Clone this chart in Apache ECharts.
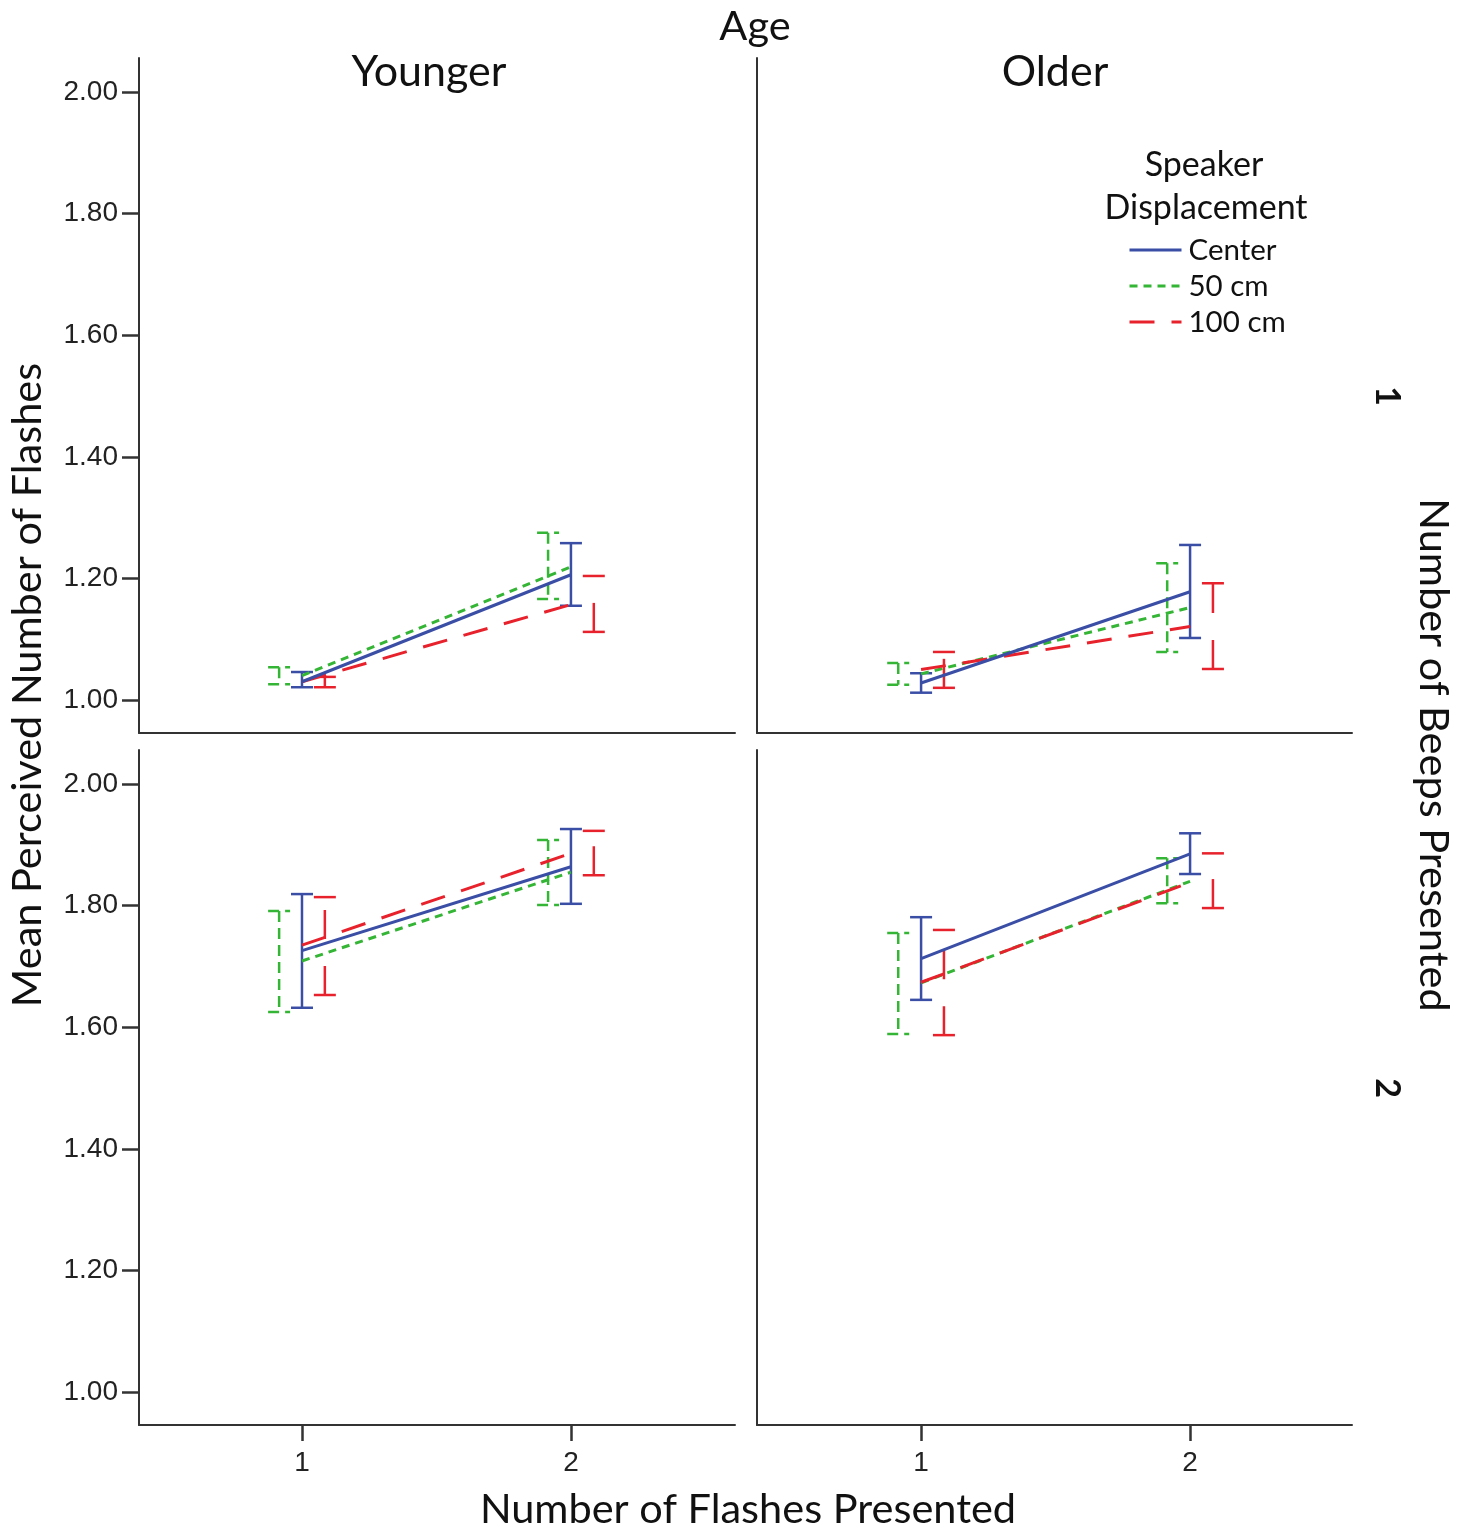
<!DOCTYPE html>
<html>
<head>
<meta charset="utf-8">
<script src="https://cdn.jsdelivr.net/npm/echarts@6/dist/echarts.min.js"></script>
<style>
  html, body { margin: 0; padding: 0; background: #fff; }
  #chart { width: 1471px; height: 1531px; }
</style>
</head>
<body>
<div id="chart"></div>
<script>
// data
const flashes = [1, 2];
const seriesNames = ['Center', '50 cm', '100 cm'];
const ages = ['Younger', 'Older'];
const beeps = ['1', '2'];
const yTicks = [1.0, 1.2, 1.4, 1.6, 1.8, 2.0];

// rows: Center, 50 cm, 100 cm ; columns: 1 flash, 2 flashes
const meanYoung1 = [[1.030, 1.206], [1.040, 1.219], [1.030, 1.157]];
const lowYoung1  = [[1.021, 1.155], [1.026, 1.166], [1.021, 1.112]];
const highYoung1 = [[1.046, 1.258], [1.054, 1.275], [1.038, 1.204]];

const meanOld1 = [[1.028, 1.178], [1.043, 1.152], [1.050, 1.121]];
const lowOld1  = [[1.012, 1.102], [1.025, 1.079], [1.020, 1.051]];
const highOld1 = [[1.044, 1.255], [1.061, 1.225], [1.079, 1.192]];

const meanYoung2 = [[1.726, 1.864], [1.709, 1.855], [1.735, 1.886]];
const lowYoung2  = [[1.632, 1.803], [1.625, 1.801], [1.653, 1.850]];
const highYoung2 = [[1.819, 1.926], [1.791, 1.908], [1.814, 1.923]];

const meanOld2 = [[1.713, 1.885], [1.673, 1.840], [1.674, 1.838]];
const lowOld2  = [[1.645, 1.852], [1.589, 1.804], [1.587, 1.796]];
const highOld2 = [[1.781, 1.919], [1.755, 1.878], [1.760, 1.886]];

const panels = [
  { mean: meanYoung1, low: lowYoung1, high: highYoung1 },
  { mean: meanOld1, low: lowOld1, high: highOld1 },
  { mean: meanYoung2, low: lowYoung2, high: highYoung2 },
  { mean: meanOld2, low: lowOld2, high: highOld2 }
];

// styling
const colors = ['#3a4ea6', '#35b535', '#e8222c'];
const lineDash = ['solid', [8, 6], [25, 17]];
const barDash = [null, [11, 6], [29, 27]];
const barFromBottom = [false, false, true];
const dodge = [0, -0.085, 0.085];
const font = 'Lato';
const axisColor = '#333';

const chart = echarts.init(document.getElementById('chart'), null, { renderer: 'canvas' });

const grids = [
  { left: 139, top: 58, width: 596, height: 675 },
  { left: 757, top: 58, width: 595, height: 675 },
  { left: 139, top: 750, width: 596, height: 675 },
  { left: 757, top: 750, width: 595, height: 675 }
];

const xAxes = grids.map((g, i) => {
  const bottomRow = i >= 2;
  return {
    type: 'value', gridIndex: i,
    min: i % 2 === 0 ? 0.394 : 0.39,
    max: i % 2 === 0 ? 2.61 : 2.602,
    splitLine: { show: false },
    axisLine: { show: true, onZero: false, lineStyle: { color: axisColor, width: 2 } },
    axisTick: { show: bottomRow, customValues: flashes, length: 16, lineStyle: { color: axisColor, width: 2.5 } },
    axisLabel: {
      show: bottomRow, customValues: flashes, margin: 24,
      fontFamily: 'Liberation Sans', fontSize: 28, color: '#222'
    }
  };
});

const yAxes = grids.map((g, i) => {
  const leftCol = i % 2 === 0;
  return {
    type: 'value', gridIndex: i,
    min: 0.9457, max: 2.056,
    splitLine: { show: false },
    axisLine: { show: true, onZero: false, lineStyle: { color: axisColor, width: 2 } },
    axisTick: { show: leftCol, customValues: yTicks, length: 17, lineStyle: { color: axisColor, width: 2.5 } },
    axisLabel: {
      show: leftCol, customValues: yTicks, margin: 21,
      formatter: v => v.toFixed(2),
      fontFamily: 'Liberation Sans', fontSize: 28, color: '#222'
    }
  };
});

function errorBarRender(k) {
  return function (params, api) {
    const x = api.value(0) + dodge[k];
    const lo = api.coord([x, api.value(1)]);
    const hi = api.coord([x, api.value(2)]);
    const cap = 11;
    const st = () => ({ stroke: colors[k], lineWidth: 2.5, lineDash: barDash[k], fill: null });
    const vert = barFromBottom[k]
      ? { x1: lo[0], y1: lo[1], x2: hi[0], y2: hi[1] }
      : { x1: hi[0], y1: hi[1], x2: lo[0], y2: lo[1] };
    return {
      type: 'group',
      children: [
        { type: 'line', shape: { x1: hi[0] - cap, y1: hi[1], x2: hi[0] + cap, y2: hi[1] }, style: st() },
        { type: 'line', shape: { x1: lo[0] - cap, y1: lo[1], x2: lo[0] + cap, y2: lo[1] }, style: st() },
        { type: 'line', shape: vert, style: st() }
      ]
    };
  };
}

const series = [];
// lines first so the legend picks up their style
panels.forEach((p, i) => {
  [1, 2, 0].forEach(k => {
    series.push({
      name: seriesNames[k], type: 'line',
      xAxisIndex: i, yAxisIndex: i,
      data: flashes.map((f, j) => [f, p.mean[k][j]]),
      symbol: 'none', z: 4,
      lineStyle: { color: colors[k], width: 3, type: lineDash[k] },
      itemStyle: { color: colors[k] }
    });
  });
});
panels.forEach((p, i) => {
  [1, 2, 0].forEach(k => {
    series.push({
      name: seriesNames[k] + ' error', type: 'custom',
      xAxisIndex: i, yAxisIndex: i,
      data: flashes.map((f, j) => [f, p.low[k][j], p.high[k][j]]),
      encode: { x: 0, y: [1, 2] },
      renderItem: errorBarRender(k), z: 3,
      silent: true
    });
  });
});

function txt(text, x, y, size, rotation, weight) {
  return {
    type: 'text', x: x, y: y, rotation: rotation || 0, silent: true,
    style: {
      text: text, fill: '#111', fontFamily: font, fontSize: size,
      fontWeight: weight || 'normal', align: 'center', verticalAlign: 'middle'
    }
  };
}

const option = {
  backgroundColor: '#fff',
  animation: false,
  grid: grids,
  xAxis: xAxes,
  yAxis: yAxes,
  series: series,
  legend: {
    data: seriesNames,
    orient: 'vertical',
    left: 1128, top: 235, padding: 0,
    itemWidth: 52, itemHeight: 14, itemGap: 6,
    itemStyle: { opacity: 0 },
    lineStyle: { width: 3 },
    textStyle: { fontFamily: font, fontSize: 29.5, color: '#111', lineHeight: 29, padding: [0, 0, 0, 2] }
  },
  graphic: [
    txt('Age', 755, 27, 41.5),
    txt(ages[0], 429, 72, 43),
    txt(ages[1], 1055, 72, 43),
    txt('Speaker', 1204, 165, 34),
    txt('Displacement', 1206, 208, 34),
    txt('Mean Perceived Number of Flashes', 28, 685, 41.5, Math.PI / 2),
    txt('Number of Flashes Presented', 748, 1510, 41.5),
    txt('Number of Beeps Presented', 1433, 755, 41.5, -Math.PI / 2),
    txt(beeps[0], 1387, 396, 34, -Math.PI / 2, 'bold'),
    txt(beeps[1], 1387, 1088, 34, -Math.PI / 2, 'bold')
  ]
};

chart.setOption(option);
</script>
</body>
</html>
